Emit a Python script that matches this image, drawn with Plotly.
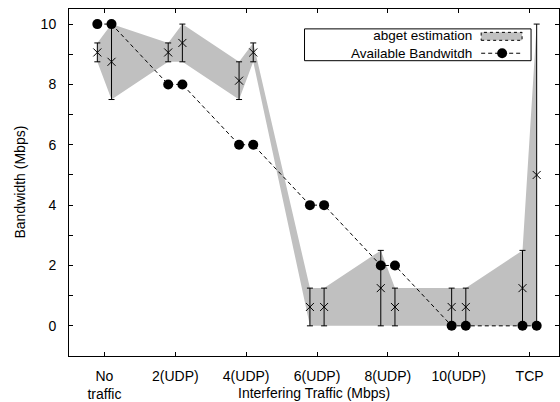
import plotly.graph_objects as go

categories = ["No<br>traffic", "2(UDP)", "4(UDP)", "6(UDP)", "8(UDP)", "10(UDP)", "TCP"]
cat_pos = [0, 1, 2, 3, 4, 5, 6]
# two measurements per category (left, right)
point_cat = [0, 0, 1, 1, 2, 2, 3, 3, 4, 4, 5, 5, 6, 6]
point_side = [-1, 1] * 7
side_offset = 0.1

avail_bw = [10, 10, 8, 8, 6, 6, 4, 4, 2, 2, 0, 0, 0, 0]
abget_mean = [9.06, 8.75, 9.06, 9.375, 8.125, 9.06, 0.625, 0.625, 1.25, 0.625, 0.625, 0.625, 1.25, 5.0]
abget_max = [9.375, 10, 9.375, 10, 8.75, 9.375, 1.25, 1.25, 2.5, 1.25, 1.25, 1.25, 2.5, 10]
abget_min = [8.75, 7.5, 8.75, 8.75, 7.5, 8.75, 0, 0, 0, 0, 0, 0, 0, 0]
legend_labels = ["abget estimation", "Available Bandwitdh"]

xs = [c + s * side_offset for c, s in zip(point_cat, point_side)]
err_plus = [mx - m for mx, m in zip(abget_max, abget_mean)]
err_minus = [m - mn for mn, m in zip(abget_min, abget_mean)]

GREY = "#c0c0c0"
FONT = "Liberation Sans, Arial, sans-serif"
FS = 14
LFS = 13.5

fig = go.Figure()
fig.add_trace(go.Scatter(x=xs, y=abget_max, mode="lines", line=dict(width=0, color=GREY),
                         hoverinfo="skip", showlegend=False))
fig.add_trace(go.Scatter(x=xs, y=abget_min, mode="lines", line=dict(width=0, color=GREY),
                         fill="tonexty", fillcolor=GREY, showlegend=False))
fig.add_trace(go.Scatter(x=xs, y=abget_mean, mode="markers",
                         marker=dict(symbol="x-thin-open", size=8, color="black",
                                     line=dict(width=1, color="black")),
                         error_y=dict(type="data", symmetric=False, array=err_plus,
                                      arrayminus=err_minus, color="black", thickness=1, width=3),
                         showlegend=False))
fig.add_trace(go.Scatter(x=xs, y=avail_bw, mode="lines+markers",
                         line=dict(color="black", width=1, dash="4px,3px"),
                         marker=dict(symbol="circle", size=10, color="black"),
                         showlegend=False))

# legend (gnuplot style: text left of sample), paper coordinates
W, H = 491.0, 349.0
def px(x):
    return (x - 69) / W
def py(y):
    return (358 - y) / H

L1, L2 = 36.5, 53.5
shapes = [
    dict(type="rect", xref="paper", yref="paper", x0=px(305), x1=px(532), y0=py(61), y1=py(29),
         line=dict(color="black", width=1), fillcolor="white", layer="above"),
    dict(type="rect", xref="paper", yref="paper", x0=px(482), x1=px(523), y0=py(L1 + 4), y1=py(L1 - 4),
         line=dict(color="black", width=1, dash="dot"), fillcolor=GREY, layer="above"),
    dict(type="line", xref="paper", yref="paper", x0=px(482), x1=px(523), y0=py(L2), y1=py(L2),
         line=dict(color="black", width=1, dash="4px,3px"), layer="above"),
    dict(type="circle", xref="paper", yref="paper", x0=px(498), x1=px(508), y0=py(L2 + 5), y1=py(L2 - 5),
         line=dict(color="black", width=0), fillcolor="black", layer="above"),
]
annotations = [
    dict(text="<br>".join(legend_labels), xref="paper", yref="paper", x=px(474), y=py((L1 + L2) / 2),
         xanchor="right", yanchor="middle", align="right", showarrow=False, borderpad=0,
         font=dict(family=FONT, size=LFS, color="black")),
    dict(text="Interfering Traffic (Mbps)", xref="paper", yref="paper", x=0.5, y=0,
         yshift=-37, xanchor="center", yanchor="middle", showarrow=False,
         font=dict(family=FONT, size=FS, color="black")),
    dict(text="Bandwidth (Mbps)", xref="paper", yref="paper", x=0, y=0.5, xshift=-50,
         textangle=-90, xanchor="center", yanchor="middle", showarrow=False,
         font=dict(family=FONT, size=FS, color="black")),
]

fig.update_layout(
    width=560, height=402,
    margin=dict(l=69, r=0, t=9, b=44),
    plot_bgcolor="white", paper_bgcolor="white",
    font=dict(family=FONT, size=FS, color="black"),
    shapes=shapes, annotations=annotations,
    showlegend=False,
)
fig.update_xaxes(range=[-0.5, 6.415], tickvals=cat_pos, ticktext=categories,
                 showgrid=False, zeroline=False, showline=True, linecolor="black", linewidth=1,
                 mirror="ticks", ticks="inside", ticklen=4, tickcolor="black",
                 ticklabelstandoff=7, fixedrange=True)
fig.update_yaxes(range=[-1, 10.5], tickvals=[0, 2, 4, 6, 8, 10],
                 showgrid=False, zeroline=False, showline=True, linecolor="black", linewidth=1,
                 mirror="ticks", ticks="inside", ticklen=4, tickcolor="black",
                 minor=dict(tickvals=[1, 3, 5, 7, 9], ticks="inside", ticklen=4, tickcolor="black"),
                 ticklabelstandoff=9, fixedrange=True)

fig.write_html("out.html")
